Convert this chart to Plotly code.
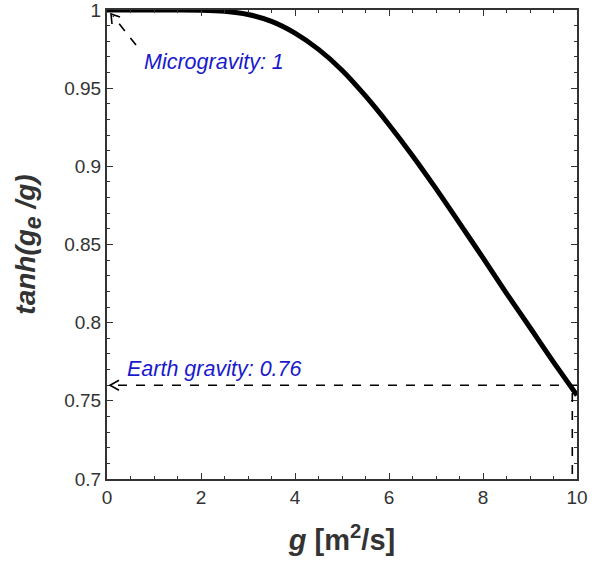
import plotly.graph_objects as go

# values
g_vals = [0.0, 0.5, 1.0, 1.5, 2.0, 2.5, 3.0, 3.5, 4.0, 4.5, 5.0, 5.5, 6.0, 6.5, 7.0, 7.5, 8.0, 8.5, 9.0, 9.5, 10.0]
tanh_vals = [1.0, 1.0, 1.0, 1.0, 0.9999, 0.9992, 0.9971, 0.9927, 0.9852, 0.9748, 0.9615, 0.9450, 0.9266,
             0.9068, 0.8857, 0.8637, 0.8414, 0.8188, 0.7969, 0.7748, 0.7535]
x_ticks = [0, 2, 4, 6, 8, 10]
y_ticks = [0.7, 0.75, 0.8, 0.85, 0.9, 0.95, 1.0]
y_tick_text = ["0.7", "0.75", "0.8", "0.85", "0.9", "0.95", "1"]
earth_value = 0.76
earth_g = 9.9

W, H = 614, 567
L, R, T, B = 107, 37, 10, 88
XR = [0, 10]
YR = [0.7, 1.0]
pw, ph = W - L - R, H - T - B


def px(x):
    return XR[0] + (x - L) / pw * (XR[1] - XR[0])


def py(y):
    return YR[1] - (y - T) / ph * (YR[1] - YR[0])


fig = go.Figure()
fig.add_trace(go.Scatter(x=g_vals, y=tanh_vals, mode="lines",
                         line=dict(color="black", width=5, shape="spline", smoothing=0.6),
                         cliponaxis=False, showlegend=False, hoverinfo="skip"))

dash_line = dict(color="black", width=1.6, dash="dash")
solid_line = dict(color="black", width=1.6)
shapes = []
shapes.append(dict(type="line", xref="x", yref="y", x0=g_vals[-1], x1=px(111), y0=earth_value, y1=earth_value,
                   line=dash_line))
ty = T + (YR[1] - earth_value) / (YR[1] - YR[0]) * ph
shapes.append(dict(type="path", xref="x", yref="y",
                   path=f"M {px(119)},{py(ty-5)} L {px(110)},{earth_value} L {px(119)},{py(ty+5)}",
                   line=solid_line))
shapes.append(dict(type="line", xref="x", yref="y", x0=earth_g, x1=earth_g, y0=0.755, y1=0.7, line=dash_line))
shapes.append(dict(type="line", xref="x", yref="y", x0=px(136), y0=py(45), x1=px(113), y1=py(16), line=dash_line))
shapes.append(dict(type="path", xref="x", yref="y",
                   path=f"M {px(112)},{py(24)} L {px(111)},{py(14)} L {px(120)},{py(17)}",
                   line=solid_line))

ann_font = dict(family="Liberation Sans, Arial", size=21.5, color="#1a1acc")
annotations = [
    dict(x=px(142), y=py(62), xref="x", yref="y", text="<i>Microgravity: 1</i>", showarrow=False,
         xanchor="left", yanchor="middle", font=ann_font),
    dict(x=px(125), y=py(369), xref="x", yref="y", text="<i>Earth gravity: 0.76</i>", showarrow=False,
         xanchor="left", yanchor="middle", font=ann_font),
]

axis_common = dict(showline=True, linecolor="#333333", linewidth=2, mirror="allticks", ticks="inside",
                   ticklen=6, tickwidth=1.2, tickcolor="#333333", showgrid=False, zeroline=False,
                   ticklabeloverflow="allow",
                   tickfont=dict(family="Liberation Sans, Arial", size=19, color="#333333"))

fig.update_layout(
    width=W, height=H,
    margin=dict(l=L, r=R, t=T, b=B, autoexpand=False),
    paper_bgcolor="white", plot_bgcolor="white",
    shapes=shapes, annotations=annotations,
    xaxis=dict(range=XR, tickvals=x_ticks, **axis_common,
               minor=dict(dtick=0.5, ticklen=3, tickcolor="#333333", ticks="inside"),
               title=dict(text="<b><i>g</i> [m<sup>2</sup>/s]</b>", standoff=23,
                          font=dict(family="Liberation Sans, Arial", size=29, color="#333333"))),
    yaxis=dict(range=YR, tickvals=y_ticks, ticktext=y_tick_text, **axis_common,
               minor=dict(dtick=0.01, ticklen=3, tickcolor="#333333", ticks="inside"),
               title=dict(text="<b><i>tanh(g<sub><span style='font-size:23px'>e</span></sub>&nbsp;/g)</i></b>",
                          standoff=20,
                          font=dict(family="Liberation Sans, Arial", size=28, color="#333333"))),
)

fig.write_html("out.html")
